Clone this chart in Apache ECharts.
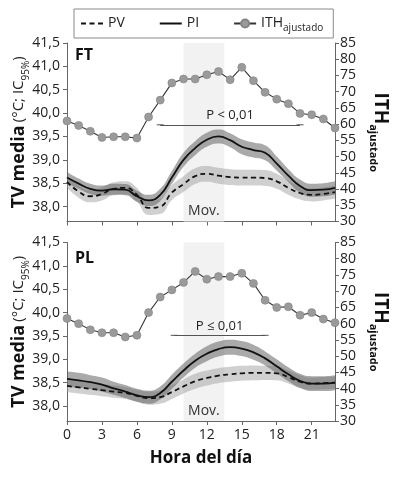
<!DOCTYPE html>
<html>
<head>
<meta charset="utf-8">
<script src="https://cdn.jsdelivr.net/npm/echarts@6/dist/echarts.min.js"></script>
<style>
  html, body { margin: 0; padding: 0; background: #fff; }
  #cht { width: 397px; height: 478px; }
</style>
</head>
<body>
<div id="cht"></div>
<script>
const hours = [0, 1, 2, 3, 4, 5, 6, 7, 8, 9, 10, 11, 12, 13, 14, 15, 16, 17, 18, 19, 20, 21, 22, 23];
const xTicks = [0, 3, 6, 9, 12, 15, 18, 21];
const tvTicks = [38, 38.5, 39, 39.5, 40, 40.5, 41, 41.5];

// FT
const ithFT = [61.0, 59.6, 57.8, 55.9, 56.1, 56.1, 55.7, 62.2, 67.4, 72.7, 73.9, 73.9, 75.2, 76.2, 73.7, 77.5, 73.4, 69.8, 67.7, 66.3, 63.3, 62.9, 61.6, 58.8];
const piFT = [38.62, 38.49, 38.38, 38.34, 38.37, 38.36, 38.22, 38.13, 38.25, 38.62, 39.0, 39.25, 39.43, 39.5, 39.42, 39.28, 39.21, 39.15, 38.92, 38.66, 38.44, 38.35, 38.36, 38.4];
const pvFT = [38.53, 38.32, 38.22, 38.27, 38.38, 38.4, 38.25, 37.97, 38.0, 38.3, 38.48, 38.65, 38.7, 38.66, 38.63, 38.62, 38.62, 38.61, 38.54, 38.4, 38.29, 38.25, 38.27, 38.31];
const ciPiFT = [0.12, 0.11, 0.11, 0.11, 0.12, 0.12, 0.12, 0.12, 0.13, 0.14, 0.15, 0.15, 0.15, 0.15, 0.15, 0.16, 0.16, 0.16, 0.15, 0.14, 0.14, 0.14, 0.14, 0.14];
const ciPvFT = [0.13, 0.13, 0.13, 0.14, 0.14, 0.14, 0.15, 0.15, 0.16, 0.16, 0.17, 0.17, 0.17, 0.17, 0.17, 0.17, 0.17, 0.17, 0.16, 0.15, 0.14, 0.14, 0.14, 0.14];

// PL
const ithPL = [61.6, 60.0, 58.1, 57.2, 57.2, 55.9, 56.4, 63.4, 68.2, 70.4, 72.7, 76.1, 73.7, 74.5, 74.5, 75.5, 72.4, 67.2, 65.0, 65.2, 62.6, 63.4, 61.4, 60.3];
const piPL = [38.58, 38.55, 38.51, 38.46, 38.38, 38.31, 38.23, 38.19, 38.28, 38.52, 38.76, 38.97, 39.12, 39.22, 39.26, 39.23, 39.15, 39.02, 38.85, 38.68, 38.54, 38.48, 38.48, 38.5];
const pvPL = [38.43, 38.4, 38.37, 38.34, 38.31, 38.28, 38.22, 38.17, 38.19, 38.3, 38.42, 38.53, 38.6, 38.65, 38.68, 38.7, 38.71, 38.71, 38.7, 38.62, 38.52, 38.48, 38.49, 38.5];
const ciPiPL = [0.16, 0.16, 0.15, 0.15, 0.14, 0.14, 0.14, 0.14, 0.14, 0.15, 0.15, 0.15, 0.16, 0.16, 0.16, 0.16, 0.16, 0.15, 0.15, 0.15, 0.15, 0.16, 0.16, 0.16];
const ciPvPL = [0.13, 0.13, 0.13, 0.13, 0.13, 0.13, 0.13, 0.14, 0.14, 0.15, 0.15, 0.16, 0.16, 0.16, 0.16, 0.16, 0.16, 0.15, 0.15, 0.14, 0.14, 0.13, 0.13, 0.13];

const movArea = [10, 13.5];
const pLineFT = { from: 8, to: 20, at: 59.8, text: 'P < 0,01' };
const pLinePL = { from: 9.2, to: 17, at: 56.4, text: 'P \u2264 0,01' };

const FONT = 'Open Sans';
const cht = echarts.init(document.getElementById('cht'));

// the CI bands sit on a hidden time axis (same span) so they stack on y
const T0 = Date.UTC(2020, 0, 1);
const hx = (h) => T0 + h * 3600000;

const pairs = (vals) => hours.map((h, i) => [h, vals[i]]);
const lower = (vals, ci) => hours.map((h, i) => [hx(h), +(vals[i] - ci[i]).toFixed(3)]);
const width = (ci) => hours.map((h, i) => [hx(h), +(2 * ci[i]).toFixed(3)]);

const axisLine = { show: true, lineStyle: { color: '#666', width: 1 } };
const axisTick = { show: true, length: 4, lineStyle: { color: '#666' } };
const labelStyle = { fontFamily: FONT, fontSize: 14, color: '#222' };

function xAxisFor(gi, showLabels) {
  return {
    type: 'value', gridIndex: gi, min: 0, max: 23,
    axisLine, splitLine: { show: false },
    axisTick: { ...axisTick, customValues: xTicks },
    axisLabel: { ...labelStyle, show: showLabels, margin: 7, customValues: xTicks },
    name: showLabels ? 'Hora del día' : '',
    nameLocation: 'middle', nameGap: 29,
    nameTextStyle: { fontFamily: FONT, fontSize: 17, fontWeight: 'bold', color: '#111' },
  };
}

function bandAxis(gi) {
  return { type: 'time', gridIndex: gi, min: hx(0), max: hx(23), show: false };
}

function leftAxis(gi) {
  return {
    type: 'value', gridIndex: gi, min: 37.68, max: 41.5,
    axisLine, splitLine: { show: false },
    axisTick: { ...axisTick, customValues: tvTicks },
    axisLabel: {
      ...labelStyle, margin: 7, customValues: tvTicks,
      formatter: (v) => v.toFixed(1).replace('.', ','),
    },
    name: '{b|TV media} {n|(°C; IC}{s|95%}{n|)}',
    nameLocation: 'middle', nameRotate: 90, nameGap: 37, nameMoveOverlap: false,
    nameTextStyle: {
      fontFamily: FONT, color: '#111',
      rich: {
        b: { fontFamily: FONT, fontSize: 18, fontWeight: 'bold', lineHeight: 22, color: '#111' },
        n: { fontFamily: FONT, fontSize: 15, lineHeight: 22, color: '#222' },
        s: { fontFamily: FONT, fontSize: 10, lineHeight: 10, padding: [14, 0, 0, 0], color: '#222' },
      },
    },
  };
}

function rightAxis(gi) {
  return {
    type: 'value', gridIndex: gi, position: 'right', min: 30, max: 85, interval: 5,
    axisLine, axisTick, splitLine: { show: false },
    axisLabel: { ...labelStyle, margin: 5 },
    name: '{b|ITH}{s|ajustado}',
    nameLocation: 'middle', nameRotate: -90, nameGap: 34,
    nameTextStyle: {
      fontFamily: FONT, color: '#111',
      rich: {
        b: { fontFamily: FONT, fontSize: 19, fontWeight: 'bold', lineHeight: 22, color: '#111' },
        s: { fontFamily: FONT, fontSize: 11, fontWeight: 'bold', lineHeight: 11, padding: [14, 0, 0, 0], color: '#111' },
      },
    },
  };
}

function panelSeries(gi, pi, pv, ciPi, ciPv, ith, pLine) {
  const xi = gi, xb = gi + 2, yl = gi * 2, yr = gi * 2 + 1;
  const hidden = { opacity: 0 };
  const line = { type: 'line', xAxisIndex: xi, yAxisIndex: yl, symbol: 'none', smooth: 0.5, silent: true };
  const band = { ...line, xAxisIndex: xb };
  return [
    {
      ...band, name: 'pvlo' + gi, stack: 'pv' + gi, data: lower(pv, ciPv), lineStyle: hidden, z: 1,
      markArea: {
        silent: true,
        itemStyle: { color: '#f2f2f2' },
        label: { show: true, position: 'insideBottom', distance: 3, formatter: 'Mov.', fontFamily: FONT, fontSize: 14, color: '#333' },
        data: [[{ xAxis: hx(movArea[0]) }, { xAxis: hx(movArea[1]) }]],
      },
    },
    { ...band, name: 'pvci' + gi, stack: 'pv' + gi, data: width(ciPv), lineStyle: hidden, areaStyle: { color: 'rgba(150,150,150,0.45)', opacity: 1 }, z: 2 },
    { ...band, name: 'pilo' + gi, stack: 'pi' + gi, data: lower(pi, ciPi), lineStyle: hidden, z: 2 },
    { ...band, name: 'pici' + gi, stack: 'pi' + gi, data: width(ciPi), lineStyle: hidden, areaStyle: { color: 'rgba(100,100,100,0.55)', opacity: 1 }, z: 2 },
    { ...line, name: 'PV', data: pairs(pv), lineStyle: { color: '#111', width: 1.8, type: [5, 3.5] }, itemStyle: { color: 'rgba(0,0,0,0)' }, z: 3 },
    { ...line, name: 'PI', data: pairs(pi), lineStyle: { color: '#111', width: 1.8 }, itemStyle: { color: 'rgba(0,0,0,0)' }, z: 3 },
    {
      type: 'line', name: 'ITH', xAxisIndex: xi, yAxisIndex: yr, data: pairs(ith), silent: true,
      symbol: 'circle', symbolSize: 8,
      lineStyle: { color: '#333', width: 1.1 },
      itemStyle: { color: '#9a9a9a', borderColor: '#858585', borderWidth: 0.6 },
      z: 4,
      markLine: {
        silent: true,
        symbol: ['rect', 'rect'], symbolSize: [1, 7],
        lineStyle: { color: '#555', width: 1, type: 'solid' },
        label: { show: true, position: 'middle', formatter: pLine.text, fontFamily: FONT, fontSize: 13, color: '#222', distance: 3 },
        data: [[{ coord: [pLine.from, pLine.at] }, { coord: [pLine.to, pLine.at] }]],
      },
    },
  ];
}

const option = {
  animation: false,
  title: [
    { text: 'FT', left: 70, top: 42, textStyle: { fontFamily: FONT, fontSize: 16, fontWeight: 'bold', color: '#111' } },
    { text: 'PL', left: 70, top: 245, textStyle: { fontFamily: FONT, fontSize: 16, fontWeight: 'bold', color: '#111' } },
  ],
  legend: {
    left: 74, top: 9, padding: [5, 10, 5, 6],
    borderColor: '#8a8a8a', borderWidth: 1,
    itemWidth: 22, itemHeight: 10, itemGap: 34,
    data: ['PV', 'PI', 'ITH'],
    formatter: (n) => (n === 'ITH' ? '{a|ITH}{s|ajustado}' : n),
    textStyle: {
      fontFamily: FONT, fontSize: 14, color: '#222',
      rich: {
        a: { fontFamily: FONT, fontSize: 14, color: '#222', lineHeight: 16 },
        s: { fontFamily: FONT, fontSize: 10, color: '#222', lineHeight: 10, padding: [9, 0, 0, 0] },
      },
    },
  },
  grid: [
    { left: 67, right: 62, top: 43, height: 178.5, outerBoundsMode: 'none' },
    { left: 67, right: 62, top: 242.5, height: 178.5, outerBoundsMode: 'none' },
  ],
  xAxis: [xAxisFor(0, false), xAxisFor(1, true), bandAxis(0), bandAxis(1)],
  yAxis: [leftAxis(0), rightAxis(0), leftAxis(1), rightAxis(1)],
  series: [
    ...panelSeries(0, piFT, pvFT, ciPiFT, ciPvFT, ithFT, pLineFT),
    ...panelSeries(1, piPL, pvPL, ciPiPL, ciPvPL, ithPL, pLinePL),
  ],
};

cht.setOption(option);
</script>
</body>
</html>
